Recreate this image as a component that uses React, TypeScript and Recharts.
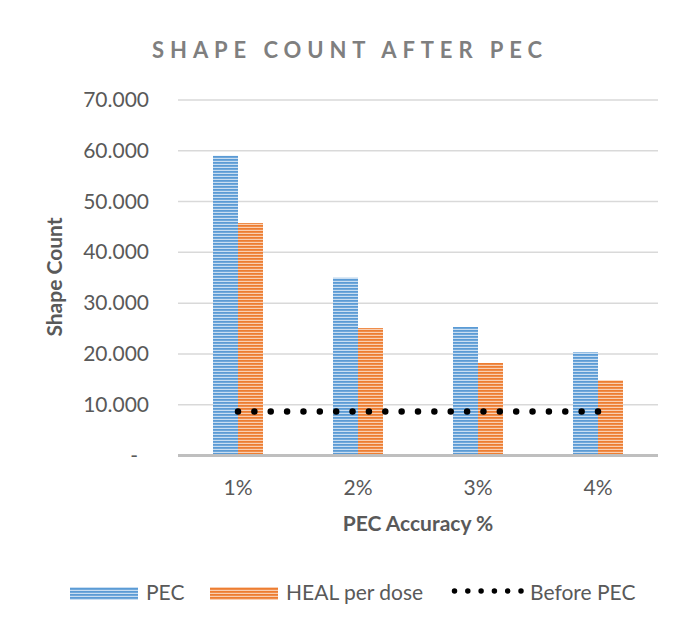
import React from "react";
import { ComposedChart, Bar, Line, XAxis, YAxis, CartesianGrid } from "recharts";

const categories = ["1%", "2%", "3%", "4%"];
const pecValues = [59000, 35000, 25300, 20350];
const healValues = [45800, 25100, 18200, 14800];
const beforeValues = [8640, 8640, 8640, 8640];
const yTicks = [0, 10000, 20000, 30000, 40000, 50000, 60000, 70000];
const seriesNames = ["PEC", "HEAL per dose", "Before PEC"];
const titleText = "SHAPE COUNT AFTER PEC";
const xTitle = "PEC Accuracy %";
const yTitle = "Shape Count";

const data = categories.map((c, i) => ({
  cat: c,
  pec: pecValues[i],
  heal: healValues[i],
  before: beforeValues[i],
}));

const FONT = "Lato, 'Open Sans', sans-serif";
const TEXT = "#595959";

const fmt = (v: number) => (v === 0 ? "-" : (v / 1000).toFixed(3));

const YTick = (props: any) => {
  const { x, y, payload } = props;
  const v = payload.value;
  return (
    <text
      x={v === 0 ? x - 11 : x}
      y={y}
      dy={7}
      textAnchor="end"
      fill={TEXT}
      fontSize={21}
      fontFamily={FONT}
    >
      {fmt(v)}
    </text>
  );
};

const XTick = (props: any) => {
  const { x, y, payload } = props;
  return (
    <text x={x} y={y + 39.5} textAnchor="middle" fill={TEXT} fontSize={21} fontFamily={FONT}>
      {payload.value}
    </text>
  );
};

export default function App() {
  return (
    <div style={{ position: "relative", width: 676, height: 627, margin: -8, background: "#fff" }}>
      <svg width={0} height={0} style={{ position: "absolute" }}>
        <defs>
          <pattern id="pecPattern" patternUnits="userSpaceOnUse" width={8} height={3}>
            <rect width={8} height={3} fill="#5b9bd5" />
            <rect y={1.8} width={8} height={1.2} fill="#c9def2" />
          </pattern>
          <pattern id="healPattern" patternUnits="userSpaceOnUse" width={8} height={3}>
            <rect width={8} height={3} fill="#ed7d31" />
            <rect y={1.8} width={8} height={1.2} fill="#f9cfb2" />
          </pattern>
        </defs>
      </svg>
      <ComposedChart
        width={676}
        height={627}
        data={data}
        margin={{ top: 100, right: 18, bottom: 131.5, left: 0 }}
        barCategoryGap={35}
        barGap={0}
      >
        <CartesianGrid vertical={false} stroke="#d9d9d9" strokeWidth={1.5} />
        <XAxis
          dataKey="cat"
          height={40}
          tickSize={0}
          tickMargin={0}
          tickLine={false}
          axisLine={{ stroke: "#bfbfbf", strokeWidth: 3 }}
          tick={<XTick />}
          interval={0}
        />
        <YAxis
          width={178}
          domain={[0, 70000]}
          ticks={yTicks}
          tickSize={0}
          tickMargin={29}
          axisLine={false}
          tickLine={false}
          tick={<YTick />}
          interval={0}
        />
        <Bar dataKey="pec" name={seriesNames[0]} fill="url(#pecPattern)" isAnimationActive={false} />
        <Bar dataKey="heal" name={seriesNames[1]} fill="url(#healPattern)" isAnimationActive={false} />
        <Line
          dataKey="before"
          name={seriesNames[2]}
          type="linear"
          stroke="#000"
          strokeWidth={6.5}
          strokeDasharray="0 16.3636"
          strokeLinecap="round"
          dot={false}
          activeDot={false}
          isAnimationActive={false}
        />
      </ComposedChart>
      <svg
        width={676}
        height={627}
        style={{ position: "absolute", left: 0, top: 0, pointerEvents: "none" }}
      >
        <line x1={7.5} y1={0} x2={7.5} y2={608} stroke="#d9d9d9" strokeWidth={1} />
        <text
          x={350}
          y={58}
          textAnchor="middle"
          fontFamily={FONT}
          fontWeight={700}
          fontSize={22}
          letterSpacing={5.9}
          fill="#7f7f7f"
        >
          {titleText}
        </text>
        <text
          transform="translate(62,277) rotate(-90)"
          textAnchor="middle"
          fontFamily={FONT}
          fontWeight={700}
          fontSize={21}
          fill={TEXT}
        >
          {yTitle}
        </text>
        <text x={418} y={531} textAnchor="middle" fontFamily={FONT} fontWeight={700} fontSize={21} fill={TEXT}>
          {xTitle}
        </text>
        <rect x={70} y={587} width={68} height={13} fill="url(#pecPattern)" />
        <text x={146} y={600} fontFamily={FONT} fontSize={21} fill={TEXT}>
          {seriesNames[0]}
        </text>
        <rect x={210} y={587} width={68} height={13} fill="url(#healPattern)" />
        <text x={286} y={600} fontFamily={FONT} fontSize={21} fill={TEXT}>
          {seriesNames[1]}
        </text>
        <line
          x1={454.5}
          y1={591}
          x2={522}
          y2={591}
          stroke="#000"
          strokeWidth={5.5}
          strokeDasharray="0 13.3"
          strokeLinecap="round"
        />
        <text x={530} y={600} fontFamily={FONT} fontSize={21} fill={TEXT}>
          {seriesNames[2]}
        </text>
      </svg>
    </div>
  );
}
